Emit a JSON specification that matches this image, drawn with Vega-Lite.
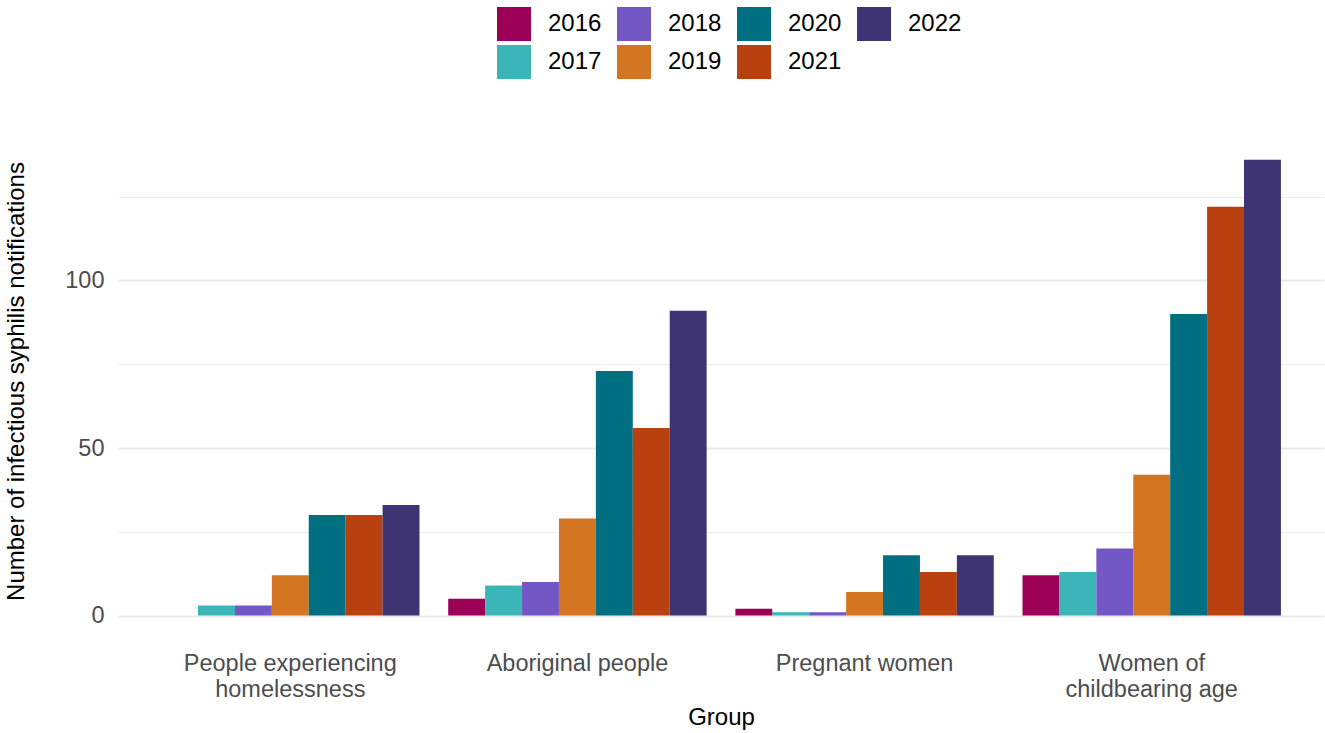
{
  "$schema": "https://vega.github.io/schema/vega-lite/v6.json",
  "width": 1206,
  "height": 516,
  "autosize": {"type": "none"},
  "padding": {"left": 118, "top": 123, "right": 1, "bottom": 94},
  "background": "white",
  "config": {
    "view": {"stroke": null},
    "font": "Liberation Sans",
    "axis": {"domain": false, "ticks": false, "gridColor": "#ebebeb", "labelFont": "Liberation Sans", "titleFont": "Liberation Sans", "labelColor": "#4d4d4d", "titleColor": "#000000", "titleFontWeight": "normal", "labelFontSize": 23.5, "titleFontSize": 24, "labelLimit": 0}
  },
  "data": {
    "values": [
      {"group": "People experiencing homelessness", "year": "2017", "count": 3},
      {"group": "People experiencing homelessness", "year": "2018", "count": 3},
      {"group": "People experiencing homelessness", "year": "2019", "count": 12},
      {"group": "People experiencing homelessness", "year": "2020", "count": 30},
      {"group": "People experiencing homelessness", "year": "2021", "count": 30},
      {"group": "People experiencing homelessness", "year": "2022", "count": 33},
      {"group": "Aboriginal people", "year": "2016", "count": 5},
      {"group": "Aboriginal people", "year": "2017", "count": 9},
      {"group": "Aboriginal people", "year": "2018", "count": 10},
      {"group": "Aboriginal people", "year": "2019", "count": 29},
      {"group": "Aboriginal people", "year": "2020", "count": 73},
      {"group": "Aboriginal people", "year": "2021", "count": 56},
      {"group": "Aboriginal people", "year": "2022", "count": 91},
      {"group": "Pregnant women", "year": "2016", "count": 2},
      {"group": "Pregnant women", "year": "2017", "count": 1},
      {"group": "Pregnant women", "year": "2018", "count": 1},
      {"group": "Pregnant women", "year": "2019", "count": 7},
      {"group": "Pregnant women", "year": "2020", "count": 18},
      {"group": "Pregnant women", "year": "2021", "count": 13},
      {"group": "Pregnant women", "year": "2022", "count": 18},
      {"group": "Women of childbearing age", "year": "2016", "count": 12},
      {"group": "Women of childbearing age", "year": "2017", "count": 13},
      {"group": "Women of childbearing age", "year": "2018", "count": 20},
      {"group": "Women of childbearing age", "year": "2019", "count": 42},
      {"group": "Women of childbearing age", "year": "2020", "count": 90},
      {"group": "Women of childbearing age", "year": "2021", "count": 122},
      {"group": "Women of childbearing age", "year": "2022", "count": 136}
    ]
  },
  "mark": {"type": "bar", "strokeWidth": 0},
  "encoding": {
    "x": {
      "field": "group",
      "type": "nominal",
      "sort": ["People experiencing homelessness", "Aboriginal people", "Pregnant women", "Women of childbearing age"],
      "scale": {"paddingInner": 0, "paddingOuter": 0.1},
      "axis": {
        "title": "Group",
        "labelAngle": 0,
        "bandPosition": 0.5,
        "gridWidth": 2,
        "labelPadding": 12,
        "labelLineHeight": 26,
        "labelBaseline": "top",
        "titlePadding": 5,
        "labelExpr": "datum.value == 'People experiencing homelessness' ? ['People experiencing', 'homelessness'] : datum.value == 'Women of childbearing age' ? ['Women of', 'childbearing age'] : datum.value"
      }
    },
    "xOffset": {
      "field": "year",
      "type": "nominal",
      "scale": {"domain": ["2016", "2017", "2018", "2019", "2020", "2021", "2022"], "paddingInner": 0, "paddingOuter": 0.389}
    },
    "y": {
      "field": "count",
      "type": "quantitative",
      "scale": {"domain": [-7, 147], "nice": false, "zero": false},
      "axis": {
        "title": "Number of infectious syphilis notifications",
        "values": [0, 25, 50, 75, 100, 125],
        "labelExpr": "datum.value % 50 == 0 ? datum.label : ''",
        "gridWidth": {"condition": {"test": "datum.value % 50 == 0", "value": 2}, "value": 1},
        "labelPadding": 14,
        "titlePadding": 36
      }
    },
    "color": {
      "field": "year",
      "type": "nominal",
      "scale": {
        "domain": ["2016", "2017", "2018", "2019", "2020", "2021", "2022"],
        "range": ["#9b0056", "#3bb6b8", "#7357c4", "#d47521", "#006f82", "#b9410f", "#3e3474"]
      },
      "legend": {
        "title": null,
        "orient": "none",
        "direction": "vertical",
        "legendX": 379,
        "legendY": -116,
        "columns": 4,
        "columnPadding": 15,
        "rowPadding": 4,
        "padding": 0,
        "symbolType": "square",
        "symbolSize": 1156,
        "symbolStrokeWidth": 0,
        "labelFontSize": 24,
        "labelFont": "Liberation Sans",
        "labelColor": "#000000",
        "labelOffset": 17
      }
    }
  }
}
